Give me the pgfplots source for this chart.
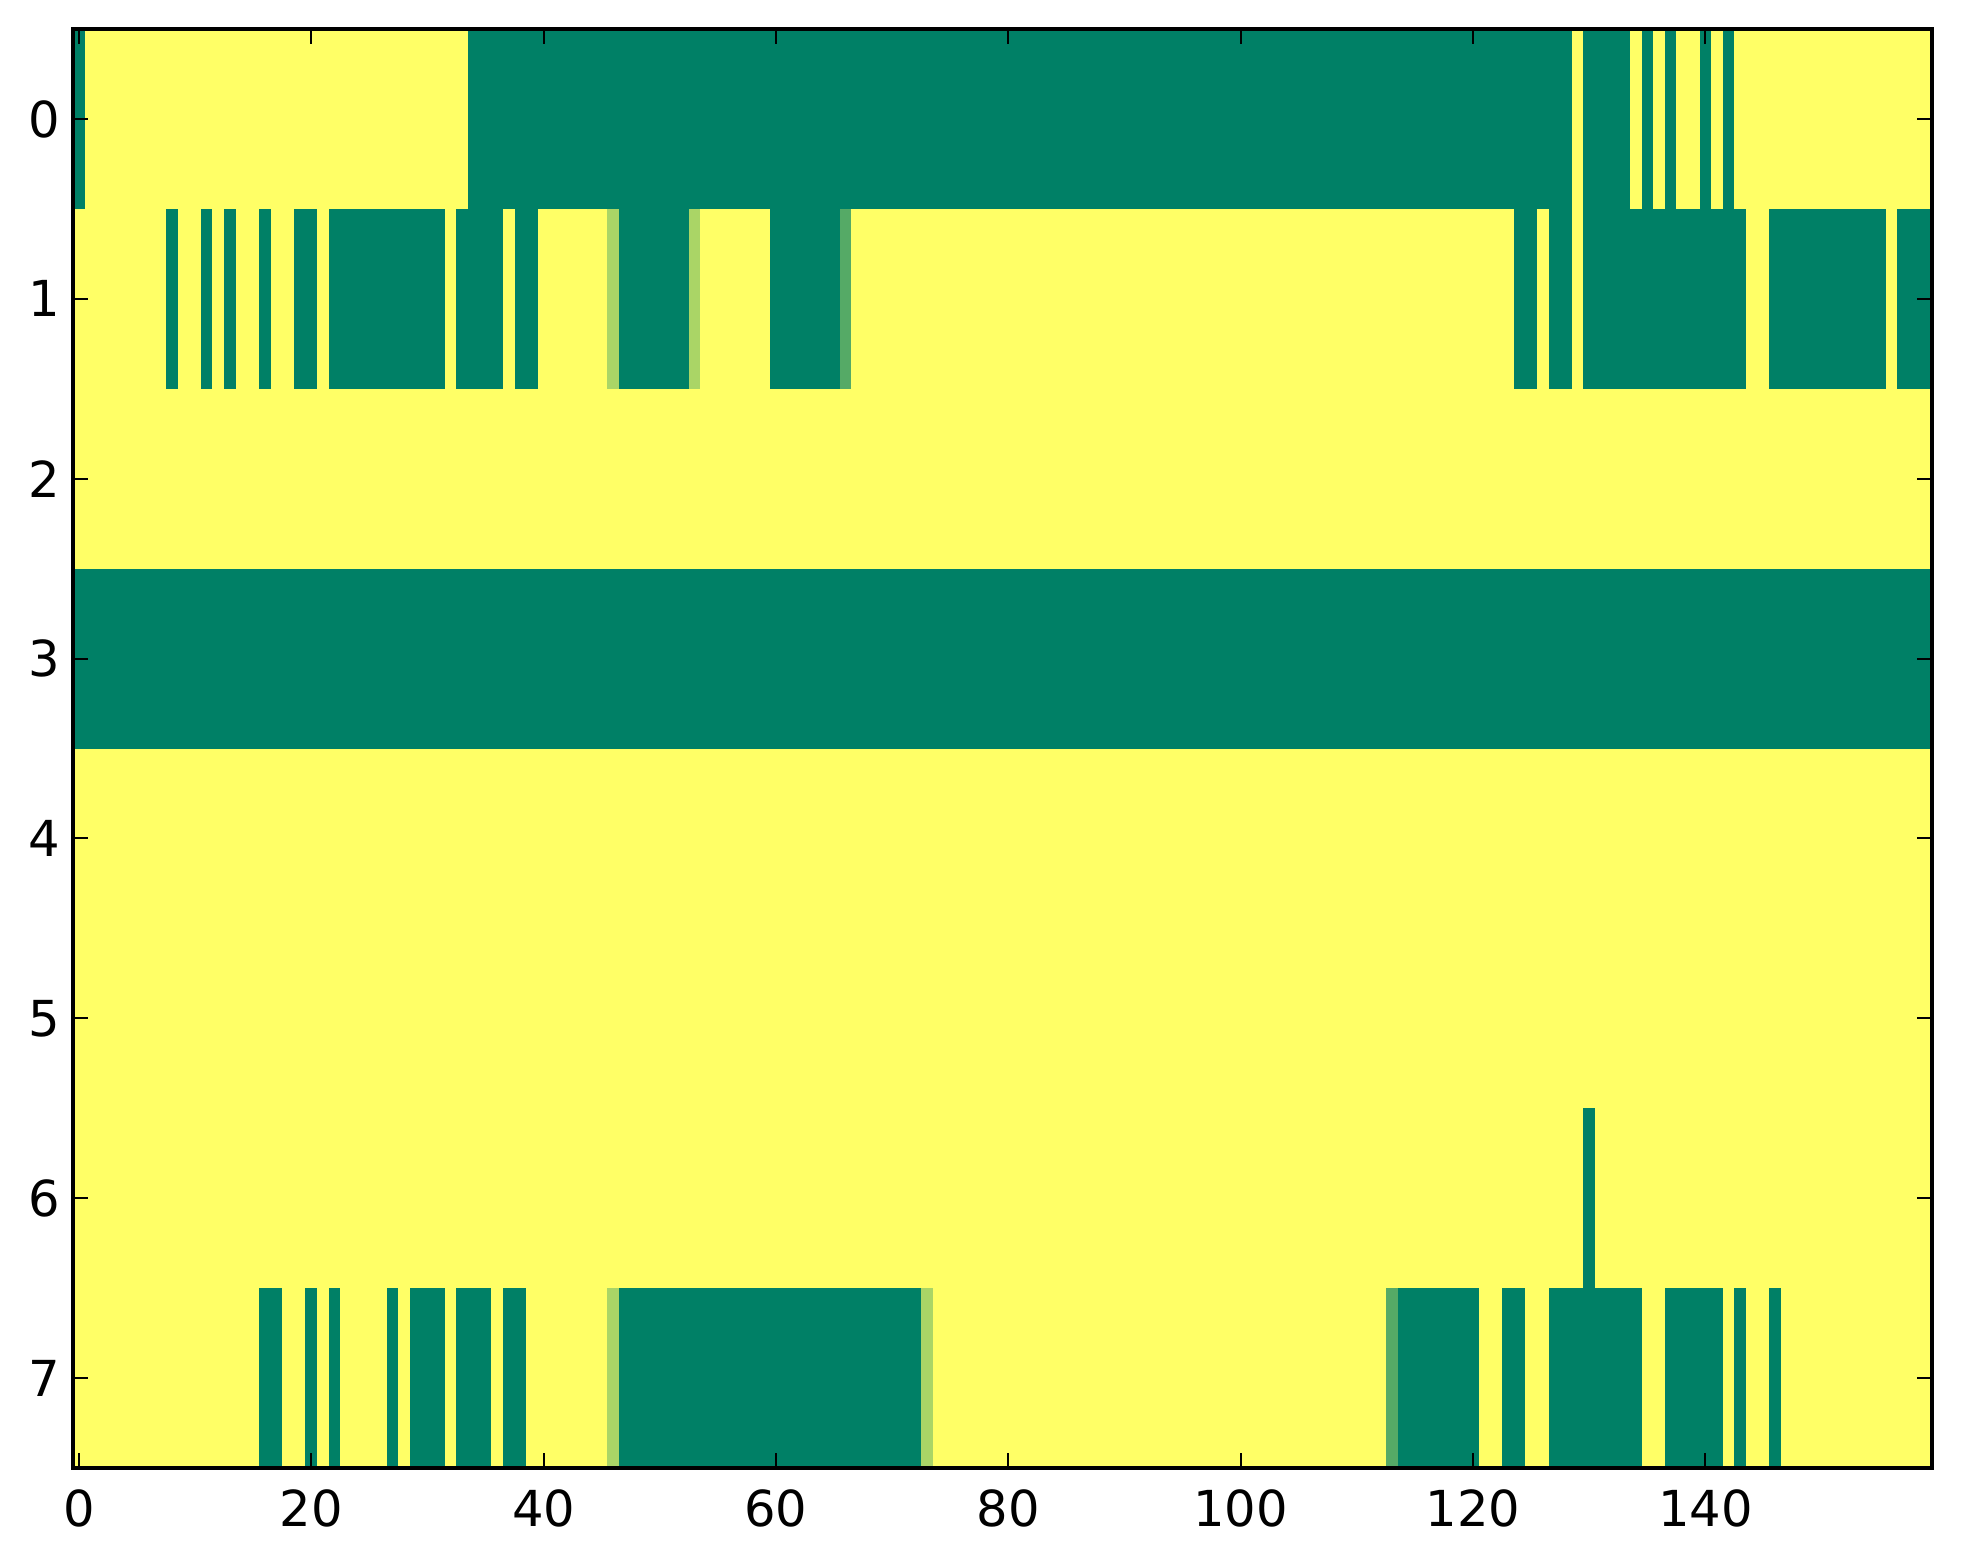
\documentclass[border=0pt]{standalone}
\usepackage{fontspec}
\setmainfont{DejaVu Sans}
\usepackage{pgfplots}
\pgfplotsset{compat=1.18}
\definecolor{sg}{RGB}{0,128,102}
\definecolor{sy}{RGB}{255,255,102}
\definecolor{sl}{RGB}{170,213,102}
\definecolor{sm}{RGB}{85,170,102}
% \R{row}{first column}{last column}{colour}: one run of equal cells
\newcommand\R[4]{%
  \pgfmathsetmacro\xa{#2-0.5}\pgfmathsetmacro\xb{#3+0.5}%
  \pgfmathsetmacro\ya{#1-0.5}\pgfmathsetmacro\yb{#1+0.5}%
  \edef\tmp{\noexpand\addplot[fill=#4,draw=none,forget plot] coordinates {(\xa,\ya) (\xb,\ya) (\xb,\yb) (\xa,\yb)};}\tmp}
\begin{document}
\begin{tikzpicture}
\begin{axis}[at={(0,0)}, anchor=south west, scale only axis,
  width=464.75pt, height=359.75pt,
  xmin=-0.5, xmax=159.5, ymin=-0.5, ymax=7.5, y dir=reverse,
  xtick={0,20,...,140}, ytick={0,...,7},
  tick align=inside, tick pos=both, major tick length=3.75pt,
  axis on top,
  every axis/.append style={line width=1pt},
  axis line style={line width=1pt},
  major tick style={black, line width=0.5pt},
  tick label style={font=\fontsize{12.4}{14}\selectfont},
  /pgf/number format/assume math mode=true,
  yticklabel style={inner sep=0pt, xshift=-2.8pt},
  xticklabel style={inner sep=0pt, yshift=-5pt}]
% background: all cells at value 1 (yellow)
\R{0}{0}{159}{sy}\R{1}{0}{159}{sy}\R{2}{0}{159}{sy}\R{3}{0}{159}{sy}
\R{4}{0}{159}{sy}\R{5}{0}{159}{sy}\R{6}{0}{159}{sy}\R{7}{0}{159}{sy}
% row 0
\R{0}{0}{0}{sg}\R{0}{34}{128}{sg}\R{0}{130}{133}{sg}\R{0}{135}{135}{sg}
\R{0}{137}{137}{sg}\R{0}{140}{140}{sg}\R{0}{142}{142}{sg}
% row 1
\R{1}{8}{8}{sg}\R{1}{11}{11}{sg}\R{1}{13}{13}{sg}\R{1}{16}{16}{sg}
\R{1}{19}{20}{sg}\R{1}{22}{31}{sg}\R{1}{33}{36}{sg}\R{1}{38}{39}{sg}
\R{1}{46}{46}{sl}\R{1}{47}{52}{sg}\R{1}{53}{53}{sl}\R{1}{60}{65}{sg}\R{1}{66}{66}{sm}
\R{1}{124}{125}{sg}\R{1}{127}{128}{sg}\R{1}{130}{143}{sg}\R{1}{146}{155}{sg}\R{1}{157}{159}{sg}
% row 3
\R{3}{0}{159}{sg}
% row 6
\R{6}{130}{130}{sg}
% row 7
\R{7}{16}{17}{sg}\R{7}{20}{20}{sg}\R{7}{22}{22}{sg}\R{7}{27}{27}{sg}
\R{7}{29}{31}{sg}\R{7}{33}{35}{sg}\R{7}{37}{38}{sg}
\R{7}{46}{46}{sl}\R{7}{47}{72}{sg}\R{7}{73}{73}{sl}
\R{7}{113}{113}{sm}\R{7}{114}{120}{sg}\R{7}{123}{124}{sg}\R{7}{127}{134}{sg}
\R{7}{137}{141}{sg}\R{7}{143}{143}{sg}\R{7}{146}{146}{sg}
\end{axis}
\path (-18.25pt,-24pt) rectangle (472.5pt,367pt);
\end{tikzpicture}
\end{document}
